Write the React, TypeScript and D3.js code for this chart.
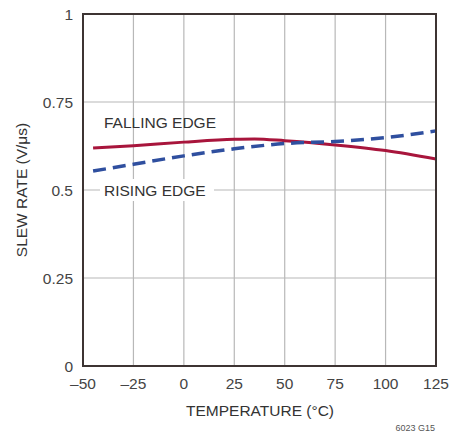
import React from "react";
import * as d3 from "d3";

const xTicks = [-50, -25, 0, 25, 50, 75, 100, 125];
const yTicks = [0, 0.25, 0.5, 0.75, 1];
const yTickLabels = ["0", "0.25", "0.5", "0.75", "1"];

const fallingTemp = [-45, -25, 0, 25, 35, 50, 75, 100, 125];
const fallingRate = [0.619, 0.626, 0.636, 0.644, 0.645, 0.64, 0.628, 0.612, 0.588];

const risingTemp = [-45, -25, 0, 25, 50, 75, 100, 125];
const risingRate = [0.554, 0.573, 0.597, 0.617, 0.632, 0.638, 0.649, 0.668];

const W = 451, H = 435;
const L = 83, R = 436, T = 14, B = 366;

export default function App() {
  const x = d3.scaleLinear().domain([-50, 125]).range([L, R]);
  const y = d3.scaleLinear().domain([0, 1]).range([B, T]);
  const line = d3.line<[number, number]>().x(d => x(d[0])).y(d => y(d[1])).curve(d3.curveMonotoneX);
  const fall = fallingTemp.map((t, i) => [t, fallingRate[i]] as [number, number]);
  const rise = risingTemp.map((t, i) => [t, risingRate[i]] as [number, number]);
  const font = "'Liberation Sans', Arial, sans-serif";
  return (
    <svg width={W} height={H} style={{ position: "absolute", left: 0, top: 0 }} fontFamily={font}>
      <rect width={W} height={H} fill="#fff" />
      {xTicks.slice(1, -1).map(t => (
        <line key={"gx" + t} x1={x(t)} x2={x(t)} y1={T} y2={B} stroke="#b8b8b8" strokeWidth={1.2} />
      ))}
      {yTicks.slice(1, -1).map(t => (
        <line key={"gy" + t} x1={L} x2={R} y1={y(t)} y2={y(t)} stroke="#b8b8b8" strokeWidth={1.2} />
      ))}
      <rect x={100} y={179} width={114} height={22} fill="#fff" />
      <path d={line(fall) || ""} fill="none" stroke="#a8153c" strokeWidth={3} />
      <path d={line(rise) || ""} fill="none" stroke="#2f4f9f" strokeWidth={3.5} strokeDasharray="13 7" />
      <rect x={L} y={T} width={R - L} height={B - T} fill="none" stroke="#3d3433" strokeWidth={2} />
      {xTicks.map(t => (
        <text key={"tx" + t} x={x(t)} y={389} textAnchor="middle" fontSize={15.5} fill="#444">
          {t < 0 ? "\u2013" + Math.abs(t) : t}
        </text>
      ))}
      {yTicks.map((t, i) => (
        <text key={"ty" + t} x={73} y={y(t) + 5.5} textAnchor="end" fontSize={15.5} fill="#444">
          {yTickLabels[i]}
        </text>
      ))}
      <text x={104} y={128} fontSize={15.5} fill="#333">FALLING EDGE</text>
      <text x={104} y={196} fontSize={15.5} fill="#333">RISING EDGE</text>
      <text x={260} y={416} textAnchor="middle" fontSize={15.5} fill="#333">TEMPERATURE (°C)</text>
      <text transform={`translate(27,${(T + B) / 2}) rotate(-90)`} textAnchor="middle" fontSize={15.5} fill="#333">
        SLEW RATE (V/μs)
      </text>
      <text x={435} y={431} textAnchor="end" fontSize={9} fill="#555">6023 G15</text>
    </svg>
  );
}
